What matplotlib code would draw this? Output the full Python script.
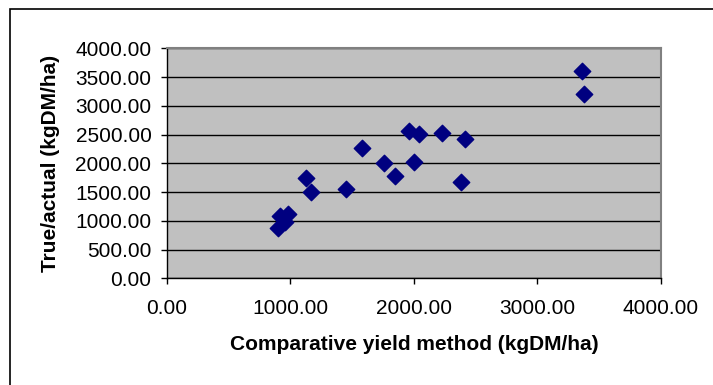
import numpy as np
import matplotlib
matplotlib.use('Agg')
import matplotlib.pyplot as plt
from matplotlib.patches import Rectangle

matplotlib.rcParams['font.family'] = ['Liberation Sans', 'DejaVu Sans']

# comparative yield method vs true/actual (kgDM/ha)
comparative = [3359, 3378, 1959, 2043, 2224, 2416, 1581, 1762, 2005, 1849,
               2384, 1124, 1170, 1449, 920, 985, 900, 955]
actual = [3606, 3200, 2568, 2504, 2533, 2417, 2261, 2012, 2017, 1774,
          1675, 1751, 1507, 1554, 1090, 1110, 880, 980]

x_ticks = [0, 1000, 2000, 3000, 4000]
y_ticks = [0, 500, 1000, 1500, 2000, 2500, 3000, 3500, 4000]

fig = plt.figure(figsize=(7.13, 3.85), dpi=100)
# outer chart frame
fig.patches.append(Rectangle((10 / 713, -0.1), 1.1, 1 - 9 / 385 + 0.1,
                             transform=fig.transFigure, fill=False,
                             edgecolor='#000000', linewidth=1.2))

ax = fig.add_axes([166.7 / 713, (385 - 278.3) / 385, 494.3 / 713, 230 / 385])
ax.set_facecolor('#C0C0C0')
ax.set_axisbelow(True)
ax.grid(axis='y', color='black', linewidth=1)

ax.scatter(comparative, actual, marker='D', s=70, color='#000080',
           edgecolors='#000080', zorder=3)

ax.set_xlim(0, 4000)
ax.set_ylim(0, 4000)
ax.set_xticks(x_ticks)
ax.set_yticks(y_ticks)
ax.set_xticklabels(['%.2f' % v for v in x_ticks])
ax.set_yticklabels(['%.2f' % v for v in y_ticks])
ax.tick_params(axis='both', direction='out', length=4, width=1, labelsize=15)
ax.tick_params(axis='x', pad=11)
ax.tick_params(axis='y', pad=7)

for side in ['top', 'right']:
    ax.spines[side].set_color('#808080')
    ax.spines[side].set_linewidth(1.5)
for side in ['left', 'bottom']:
    ax.spines[side].set_color('black')
    ax.spines[side].set_linewidth(1)

ax.set_xlabel('Comparative yield method (kgDM/ha)', fontsize=15,
              fontweight='bold', labelpad=12)
ax.set_ylabel('True/actual (kgDM/ha)', fontsize=15, fontweight='bold',
              labelpad=11)

fig.savefig('out.png', dpi=100)
